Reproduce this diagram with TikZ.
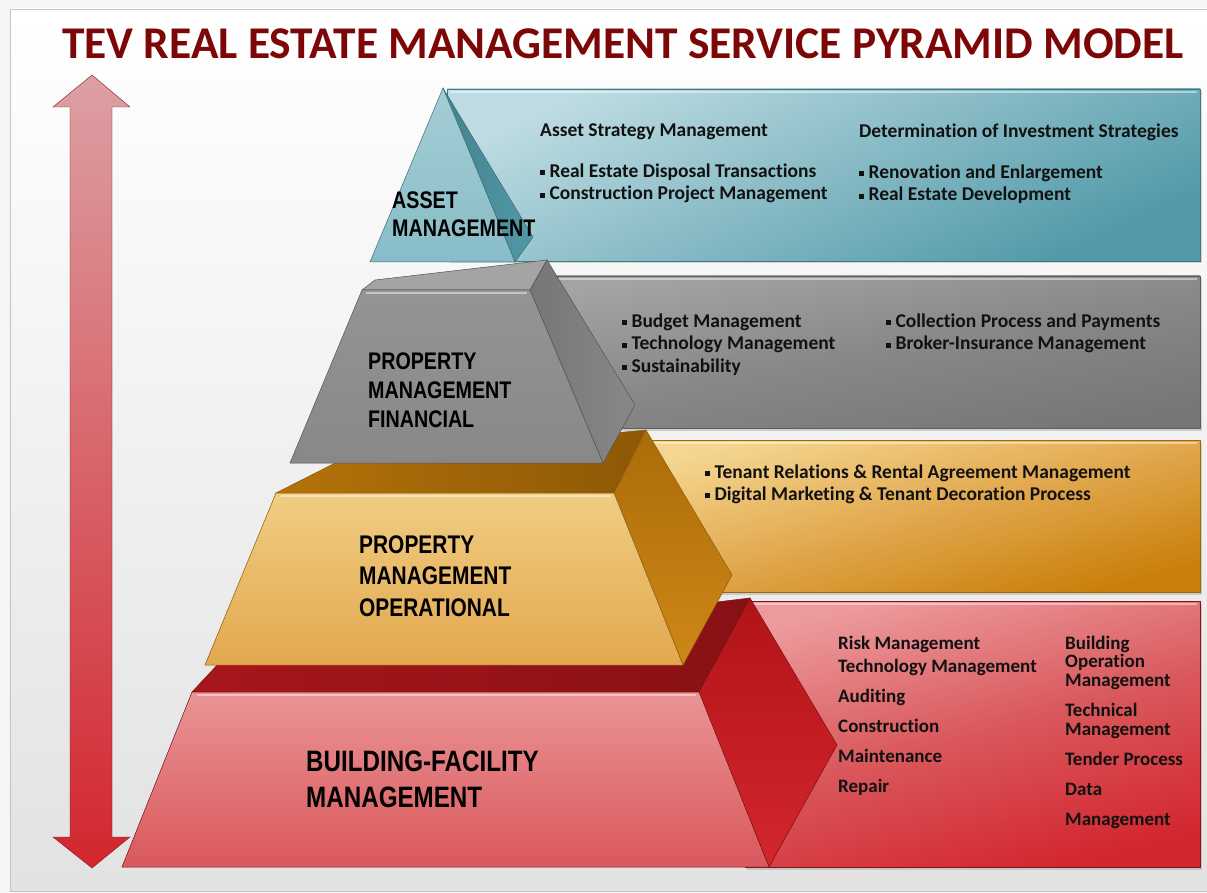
\documentclass[tikz,border=0pt]{standalone}
\usepackage{fontspec}
\setmainfont{Carlito}[Ligatures=NoCommon]
\newfontfamily\narrowfont{Liberation Sans}[FakeStretch=0.82]
\usetikzlibrary{shadows}

% colours
\definecolor{titleRed}{HTML}{7D0606}
\definecolor{bgLow}{HTML}{E2E2E2}
\definecolor{frameGrey}{HTML}{C4C4C4}
\definecolor{arrowTop}{HTML}{DCA0A4}
\definecolor{arrowBot}{HTML}{D3262E}
\definecolor{tealLight}{HTML}{BEDCE2}
\definecolor{tealMid}{HTML}{8EC1CB}
\definecolor{tealDark}{HTML}{5199A8}
\definecolor{greyLight}{HTML}{A4A4A4}
\definecolor{greyMid}{HTML}{888888}
\definecolor{greyDark}{HTML}{767676}
\definecolor{orangeLight}{HTML}{F4D690}
\definecolor{orangeMid}{HTML}{E2A84E}
\definecolor{orangeDark}{HTML}{C97F0A}
\definecolor{redLight}{HTML}{EC9A9C}
\definecolor{redMid}{HTML}{D9585C}
\definecolor{redDark}{HTML}{A8161A}
\definecolor{textBlack}{HTML}{111111}

\newcommand{\sqbul}{\rule[0.12em]{0.24em}{0.24em}\hspace{0.24em}}

\tikzset{
  panel/.style={draw=#1, line width=0.5pt,
    drop shadow={opacity=0.3, shadow xshift=1.5pt, shadow yshift=-2.5pt}},
  face/.style={draw=#1, line width=0.5pt},
  bevel/.style={white, opacity=0.45, line width=1.5pt},
  tier/.style={align=left, anchor=north west, inner sep=0pt, text=black},
  item/.style={font={\bfseries\fontsize{19.5}{22.5}\selectfont}, align=left,
    anchor=north west, inner sep=0pt, text=textBlack},
}

\begin{document}
\begin{tikzpicture}[x=1pt, y=-1pt]
    \useasboundingbox (0,0) rectangle (1207,893);

    % backdrop and frame
    \fill[white!96!black] (0,0) rectangle (1207,893);
    \path[top color=white, bottom color=bgLow, draw=frameGrey] (10,9) rectangle (1214,891);

    % title
    \node[font={\bfseries\fontsize{45.4}{50}\selectfont}, text=titleRed, anchor=base west, inner sep=0pt]
        (title) at (62,59) {TEV REAL ESTATE MANAGEMENT SERVICE PYRAMID MODEL};

    % double arrow along the left side
    \path[top color=arrowTop, bottom color=arrowBot, draw=arrowBot!60!black, line width=0.4pt]
        (92,75) -- (130,107) -- (112,107) -- (112,837) -- (130,837) -- (92,868)
        -- (53,837) -- (70,837) -- (70,107) -- (53,107) -- cycle;

    % service panels behind the pyramid
    \path[panel=tealDark!80!black, top color=tealLight, bottom color=tealDark, shading angle=25]
        (447,89) rectangle (1200,261);
    \draw[bevel] (450,92) -- (1197,92);
    \path[panel=greyDark!80!black, top color=greyLight, bottom color=greyDark, middle color=greyMid, shading angle=10]
        (540,276) rectangle (1200,428);
    \draw[bevel] (543,279) -- (1197,279);
    \path[panel=orangeDark!80!black, top color=orangeLight, bottom color=orangeDark, middle color=orangeMid, shading angle=15]
        (640,440) rectangle (1200,592);
    \draw[bevel] (643,443) -- (1197,443);
    \path[panel=redDark!80!black, top color=redLight, bottom color=arrowBot, middle color=redMid, shading angle=15]
        (745,601) rectangle (1200,867);
    \draw[bevel] (748,604) -- (1197,604);

    % bottom tier
    \path[face=redDark!70!black, left color=redDark, right color=redDark!80!black]
        (192,692) -- (220,662) -- (750,598) -- (699,692) -- cycle;
    \path[face=redDark!70!black, top color=redDark!90!red, bottom color=arrowBot]
        (699,692) -- (750,598) -- (837,745) -- (769,867) -- cycle;
    \path[face=redDark!70!black, top color=redLight!90!redMid, bottom color=redMid]
        (192,692) -- (699,692) -- (769,867) -- (122,867) -- cycle;
    \draw[bevel] (197,695) -- (696,695);

    % operational tier
    \path[face=orangeDark!70!black, left color=orangeDark!90!black, right color=orangeDark!70!black]
        (276,493) -- (345,458) -- (646,430) -- (614,493) -- cycle;
    \path[face=orangeDark!70!black, top color=orangeDark!85!black, bottom color=orangeDark!80!orangeMid]
        (614,493) -- (646,430) -- (732,575) -- (683,665) -- cycle;
    \path[face=orangeDark!70!black, top color=orangeLight!80!orangeMid, bottom color=orangeMid]
        (276,493) -- (614,493) -- (683,665) -- (205,665) -- cycle;
    \draw[bevel] (281,496) -- (611,496);

    % financial tier
    \path[face=greyDark!70!black, fill=greyLight]
        (362,290) -- (375,280) -- (547,260) -- (530,290) -- cycle;
    \path[face=greyDark!70!black, left color=greyDark, right color=greyMid]
        (530,290) -- (547,260) -- (635,405) -- (603,463) -- cycle;
    \path[face=greyDark!70!black, top color=greyMid!90!white, bottom color=greyMid]
        (362,290) -- (530,290) -- (603,463) -- (290,463) -- cycle;
    \draw[bevel] (366,293) -- (527,293);

    % asset tier
    \path[face=tealDark!70!black, left color=tealDark!85!black, right color=tealDark]
        (443,88) -- (533,237) -- (515,262) -- cycle;
    \path[face=tealDark!70!black, top color=tealMid!80!white, bottom color=tealMid!90!tealDark]
        (443,88) -- (515,262) -- (370,262) -- cycle;

    % tier labels
    \node[tier, font={\narrowfont\bfseries\fontsize{24}{28}\selectfont}] (asset) at (392,192)
        {ASSET\\MANAGEMENT};
    \node[tier, font={\narrowfont\bfseries\fontsize{24}{29}\selectfont}] (financial) at (368,353)
        {PROPERTY\\MANAGEMENT\\FINANCIAL};
    \node[tier, font={\narrowfont\bfseries\fontsize{25.5}{31.5}\selectfont}] (operational) at (359,535)
        {PROPERTY\\MANAGEMENT\\OPERATIONAL};
    \node[tier, font={\narrowfont\bfseries\fontsize{29.5}{36}\selectfont}] (facility) at (306,751)
        {BUILDING-FACILITY\\MANAGEMENT};

    % asset services
    \node[item] (assetA) at (540,123.5)
        {Asset Strategy Management\\[18.5pt]\sqbul Real Estate Disposal Transactions\\\sqbul Construction Project Management};
    \node[item] (assetB) at (859,123.5)
        {Determination of Investment Strategies\\[18.5pt]\sqbul Renovation and Enlargement\\\sqbul Real Estate Development};

    % financial services
    \node[item] (financialA) at (622,313.5)
        {\sqbul Budget Management\\\sqbul Technology Management\\\sqbul Sustainability};
    \node[item] (financialB) at (886,313.5)
        {\sqbul Collection Process and Payments\\\sqbul Broker-Insurance Management};

    % operational services
    \node[item, font={\bfseries\fontsize{19.5}{22}\selectfont}] (operationalA) at (705,464.5)
        {\sqbul Tenant Relations \& Rental Agreement Management\\\sqbul Digital Marketing \& Tenant Decoration Process};

    % facility services
    \node[item, font={\bfseries\fontsize{19}{23}\selectfont}] (facilityA) at (838,635.5)
        {Risk Management\\Technology Management\\[7pt]Auditing\\[7pt]Construction\\[7pt]Maintenance\\[7pt]Repair};
    \node[item, font={\bfseries\fontsize{19}{18.7}\selectfont}] (facilityB) at (1065,635.5)
        {Building\\Operation\\Management\\[11.3pt]Technical\\Management\\[11.3pt]Tender Process\\[11.3pt]Data\\[11.3pt]Management};
\end{tikzpicture}
\end{document}
